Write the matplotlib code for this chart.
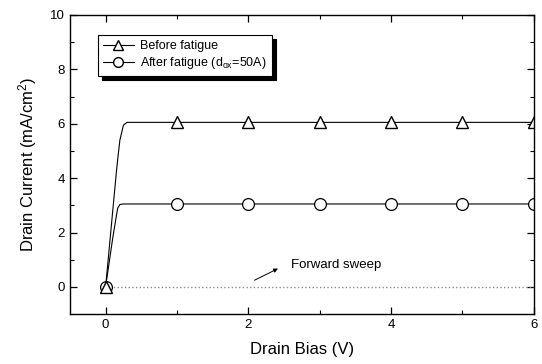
import matplotlib
matplotlib.use("Agg")
import matplotlib.pyplot as plt
from matplotlib.ticker import MultipleLocator

plt.rcParams['font.family'] = ['Liberation Sans', 'DejaVu Sans']
plt.rcParams['mathtext.fontset'] = 'custom'
plt.rcParams['mathtext.rm'] = 'Liberation Sans'
plt.rcParams['mathtext.it'] = 'Liberation Sans:italic'

# Drain bias sweep (V)
bias = [0.0, 0.05, 0.10, 0.15, 0.17, 0.20, 0.25, 0.30, 1.0, 2.0, 3.0, 4.0, 5.0, 6.0]
# Drain current (mA/cm^2)
before_fatigue = [0.0, 1.4, 2.8, 4.2, 4.7, 5.4, 5.95, 6.05, 6.05, 6.05, 6.05, 6.05, 6.05, 6.05]
after_fatigue = [0.0, 0.9, 1.8, 2.6, 2.9, 3.03, 3.05, 3.05, 3.05, 3.05, 3.05, 3.05, 3.05, 3.05]

marker_bias = [0, 1, 2, 3, 4, 5, 6]
before_markers = [0.0, 6.05, 6.05, 6.05, 6.05, 6.05, 6.05]
after_markers = [0.0, 3.05, 3.05, 3.05, 3.05, 3.05, 3.05]

forward_bias = [0, 6]
forward_current = [0, 0]

fig = plt.figure(figsize=(5.42, 3.64), dpi=100)
ax = fig.add_axes([0.129, 0.137, 0.856, 0.822])

ax.plot(forward_bias, forward_current, color='0.55', linestyle=':', linewidth=1.0)

ax.plot(bias, after_fatigue, color='black', linewidth=0.8)
ax.plot(marker_bias, after_markers, linestyle='none', marker='o', markersize=8.5,
        markerfacecolor='white', markeredgecolor='black', markeredgewidth=0.9)
ax.plot(bias, before_fatigue, color='black', linewidth=0.8)
ax.plot(marker_bias, before_markers, linestyle='none', marker='^', markersize=9,
        markerfacecolor='white', markeredgecolor='black', markeredgewidth=1.0)

# legend proxies
h1, = ax.plot([], [], color='black', linewidth=0.8, marker='^', markersize=7,
              markerfacecolor='white', markeredgecolor='black', label='Before fatigue')
h2, = ax.plot([], [], color='black', linewidth=0.8, marker='o', markersize=7,
              markerfacecolor='white', markeredgecolor='black',
              label=r'After fatigue (d$_{\mathrm{ox}}$=50A)')
leg = ax.legend(handles=[h1, h2], loc='upper left', bbox_to_anchor=(0.06, 0.933),
                borderaxespad=0, fontsize=9, frameon=True, fancybox=False,
                handlelength=2.5, borderpad=0.4, labelspacing=0.25,
                handletextpad=0.5,
                shadow={'color': 'black', 'alpha': 1.0, 'ox': 3, 'oy': -3})
leg.get_frame().set_edgecolor('black')
leg.get_frame().set_linewidth(0.8)

ax.annotate('', xy=(2.45, 0.72), xytext=(2.05, 0.2),
            arrowprops=dict(arrowstyle='-|>', color='black', lw=0.7,
                            mutation_scale=6))
ax.text(2.6, 0.8, 'Forward sweep', fontsize=9.5, va='center', ha='left')

ax.set_xlim(-0.5, 6)
ax.set_ylim(-1, 10)
ax.xaxis.set_major_locator(MultipleLocator(2))
ax.xaxis.set_minor_locator(MultipleLocator(1))
ax.yaxis.set_major_locator(MultipleLocator(2))
ax.yaxis.set_minor_locator(MultipleLocator(1))
ax.tick_params(which='both', direction='in', top=True, right=True, labelsize=9.5)
ax.tick_params(which='major', length=5, width=0.9)
ax.tick_params(which='minor', length=3, width=0.8)
for s in ax.spines.values():
    s.set_linewidth(1.0)

ax.set_xlabel('Drain Bias (V)', fontsize=12, labelpad=8)
ax.set_ylabel(r'Drain Current (mA/cm$^{2}$)', fontsize=12, labelpad=8)

fig.savefig('out.png', dpi=100)
